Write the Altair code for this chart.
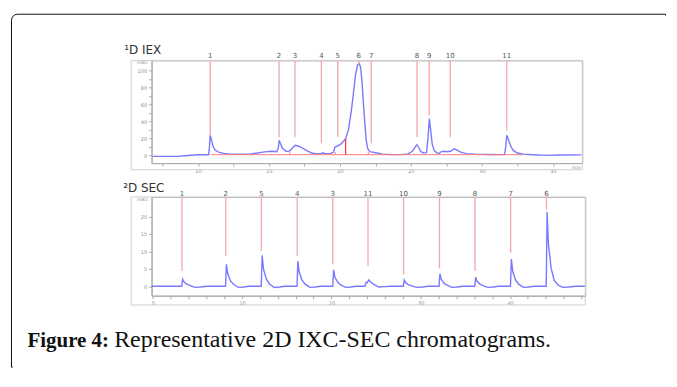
import altair as alt
import pandas as pd

# ---------------- 1D IEX (top) ----------------
iex_time = [6.8, 8.5, 9.3, 10.0, 10.75, 10.8, 10.86, 10.95, 11.05, 11.2, 11.45, 11.8, 12.3, 13.0, 13.6,
            14.2, 14.7, 15.2, 15.55, 15.65, 15.72, 15.8, 15.95, 16.2, 16.45, 16.65, 16.85, 17.1, 17.4,
            17.7, 18.0, 18.4, 18.7, 18.8, 18.95, 19.3, 19.55, 19.65, 19.85, 20.1, 20.4, 20.6, 20.8,
            20.95, 21.1, 21.25, 21.35, 21.45, 21.55, 21.65, 21.75, 21.85, 21.95, 22.1, 22.3, 22.6,
            23.0, 23.6, 24.3, 24.8, 25.1, 25.3, 25.42, 25.55, 25.7, 25.9, 26.1, 26.2, 26.3, 26.4,
            26.5, 26.65, 26.85, 27.0, 27.15, 27.35, 27.55, 27.8, 28.05, 28.25, 28.5, 28.9, 29.5,
            30.5, 31.6, 31.68, 31.75, 31.85, 32.0, 32.2, 32.5, 32.9, 33.6, 34.5, 35.5, 37.0]
iex_signal = [-1.5, -1.5, -0.5, 0.5, 0.5, 8, 23.5, 18, 11, 6, 3.5, 2, 1.2, 1.0, 1.2,
              2.5, 3.8, 4.5, 4.0, 8, 17.5, 14, 8, 4.5, 4.8, 8.5, 11.5, 10.5, 8,
              5, 2.5, 1.5, 2.0, 2.8, 1.8, 1.8, 3.5, 9.5, 11, 13.5, 19.5, 30, 52,
              73, 95, 107, 108, 104, 88, 62, 38, 18, 8, 4, 3.5, 2.5,
              1.2, 0.8, 0.6, 1.5, 4.5, 9.5, 12.3, 9, 4, 2.5, 3, 20, 43, 28,
              13, 5, 2.5, 2.2, 4.2, 4.5, 4.0, 4.5, 7.5, 6, 3.5, 1.8, 1.2,
              0.8, 0.6, 10, 23.5, 19, 12, 5.5, 2.5, 1.2, 0.5, -0.3, 0.2, 0.3]

iex_peak_labels = ["1", "2", "3", "4", "5", "6", "7", "8", "9", "10", "11"]
iex_peak_times = [10.86, 15.71, 16.83, 18.69, 19.85, 21.33, 22.2, 25.43, 26.29, 27.77, 31.75]
iex_line_ends = [23, 21, 21, 14, 21.5, 107, 14, 21, 47, 21, 29]

# integration baseline / drop lines
iex_base_start = [10.9]
iex_base_end = [32.9]
iex_base_level = [0.5]
iex_drop_times = [20.4, 16.46, 19.69, 22.0]
iex_drop_tops = [19.5, 3.5, 3.5, 3.5]
iex_drop_kind = ["main", "cut", "cut", "cut"]

# ---------------- 2D SEC (bottom) ----------------
sec_time = [-0.13, 3.25, 3.35, 3.5, 3.8, 4.2, 4.7, 5.4, 6.0,
            8.15, 8.25, 8.4, 8.7, 9.05, 9.6, 10.2, 10.8,
            12.15, 12.25, 12.4, 12.7, 13.05, 13.6, 14.2, 14.8,
            16.15, 16.25, 16.4, 16.7, 17.05, 17.6, 18.2, 18.8,
            20.15, 20.25, 20.4, 20.7, 21.05, 21.6, 22.2, 22.8,
            23.75, 23.9, 24.0, 24.2, 24.45, 24.8, 25.3, 26.0, 26.6,
            28.05, 28.15, 28.3, 28.6, 29.0, 29.6, 30.2, 30.8,
            32.05, 32.15, 32.3, 32.6, 32.95, 33.5, 34.1, 34.7,
            36.05, 36.15, 36.3, 36.6, 36.95, 37.5, 38.1, 38.7,
            40.05, 40.15, 40.3, 40.6, 40.95, 41.5, 42.1, 42.7,
            44.05, 44.15, 44.3, 44.6, 44.95, 45.4, 45.9, 46.6, 47.3, 48.4]
sec_signal = [0, 0, 2.0, 1.3, 0.6, 0.2, -0.3, -0.2, 0,
              0, 6.3, 3.6, 1.6, 0.5, -0.3, -0.2, 0,
              0, 8.9, 5.0, 2.2, 0.7, -0.35, -0.2, 0,
              0, 7.2, 4.0, 1.8, 0.6, -0.3, -0.2, 0,
              0, 4.7, 2.6, 1.2, 0.4, -0.3, -0.2, 0,
              0, 1.2, 1.0, 1.8, 1.1, 0.5, -0.2, -0.1, 0,
              0, 1.8, 1.1, 0.5, 0.1, -0.3, -0.2, 0,
              0, 3.6, 2.0, 0.9, 0.3, -0.3, -0.2, 0,
              0, 2.6, 1.5, 0.7, 0.2, -0.3, -0.2, 0,
              0, 7.8, 4.3, 1.9, 0.6, -0.3, -0.2, 0,
              0, 21.3, 12, 5.2, 1.7, 0.3, -0.3, -0.2, 0, 0]

sec_peak_labels = ["1", "2", "5", "4", "3", "11", "10", "9", "8", "7", "6"]
sec_peak_times = [3.27, 8.18, 12.16, 16.18, 20.16, 24.1, 28.08, 32.1, 36.08, 40.07, 44.08]
sec_line_ends = [4.4, 8.7, 10.1, 8.7, 6.3, 5.8, 3.4, 5.1, 4.4, 9.6, 22]

# ---------------- tables ----------------
iex_df = pd.DataFrame({"t": iex_time, "v": iex_signal})
iex_pk = pd.DataFrame({"t": iex_peak_times, "end": iex_line_ends, "lab": iex_peak_labels})
iex_base = pd.DataFrame({"t1": iex_base_start, "t2": iex_base_end, "v": iex_base_level})
iex_drop = pd.DataFrame({"t": iex_drop_times, "top": iex_drop_tops, "kind": iex_drop_kind,
                         "bot": [0.5] * len(iex_drop_times)})
sec_df = pd.DataFrame({"t": sec_time, "v": sec_signal})
sec_pk = pd.DataFrame({"t": sec_peak_times, "end": sec_line_ends, "lab": sec_peak_labels})
one = pd.DataFrame({"a": [0]})

BLUE = "#6a6aff"
PINK = "#f2a9a9"
SANS = "DejaVu Sans"

TW, TH = 432, 103
BW, BH = 435, 99

tx = alt.Scale(domain=[6.73, 37.07], nice=False, zero=False)
ty = alt.Scale(domain=[-9.4, 111.8], nice=False, zero=False)
bx = alt.Scale(domain=[-0.13, 48.42], nice=False, zero=False)
by = alt.Scale(domain=[-2.69, 25.6], nice=False, zero=False)

ax_common = dict(grid=False, labelFontSize=5, labelColor="#8c8c8c", tickColor="#aaa",
                 domainColor="#aaa", tickSize=3, labelPadding=2, title=None, labelFont=SANS,
                 labelOverlap=False, labelBound=False, labelFlush=False)

top_x_axis = alt.Axis(values=[7.5 + 2.5 * i for i in range(12)],
                      labelExpr="datum.value % 5 == 0 ? datum.label : ''", **ax_common)
top_y_axis = alt.Axis(values=[0, 10, 20, 30, 40, 50, 60, 70, 80, 90, 100],
                      labelExpr="datum.value % 20 == 0 ? datum.label : ''", **ax_common)
bot_x_axis = alt.Axis(values=[2 * i for i in range(25)],
                      labelExpr="datum.value % 10 == 0 ? datum.label : ''", **ax_common)
bot_y_axis = alt.Axis(values=[0, 5, 10, 15, 20], **ax_common)

# every layer carries the same axis definition so the merged axis keeps it
TX = dict(scale=tx, axis=top_x_axis)
TY = dict(scale=ty, axis=top_y_axis)
BX = dict(scale=bx, axis=bot_x_axis)
BY = dict(scale=by, axis=bot_y_axis)

# ---------- top panel ----------
t_sig = alt.Chart(iex_df).mark_line(color=BLUE, strokeWidth=1.4, opacity=0.9).encode(
    x=alt.X("t:Q", **TX), y=alt.Y("v:Q", **TY))

t_frame = alt.Chart(one).mark_rect(fillOpacity=0, stroke="#cfcfcf", strokeWidth=1).encode(
    x=alt.value(-20.5), x2=alt.value(TW), y=alt.value(0), y2=alt.value(109.7))

t_lines = alt.Chart(iex_pk).mark_rule(color=PINK, strokeWidth=1.3).encode(
    x=alt.X("t:Q", **TX), y=alt.Y("end:Q", **TY), y2=alt.value(0))
t_labels = alt.Chart(iex_pk).mark_text(fontSize=7, font=SANS, color="#555", baseline="middle").encode(
    x=alt.X("t:Q", **TX), y=alt.value(-4), text="lab:N")

t_base = alt.Chart(iex_base).mark_rule(color="#ff7b7b", strokeWidth=1).encode(
    x=alt.X("t1:Q", **TX), x2="t2:Q", y=alt.Y("v:Q", **TY))
t_drop = alt.Chart(iex_drop).mark_rule(strokeWidth=1.2).encode(
    x=alt.X("t:Q", **TX), y=alt.Y("bot:Q", **TY), y2="top:Q",
    color=alt.Color("kind:N", scale=alt.Scale(domain=["main", "cut"], range=["#ff3030", "#ff8c8c"]),
                    legend=None))

t_title = alt.Chart(one).mark_text(text="\u00b9D IEX", fontSize=12, font=SANS, color="#333",
                                   align="left", baseline="alphabetic").encode(
    x=alt.value(-27.5), y=alt.value(-6.3))
t_mau = alt.Chart(one).mark_text(text="mAU", fontSize=4.5, font=SANS, color="#8c8c8c",
                                 align="right", baseline="middle").encode(
    x=alt.value(-4), y=alt.value(2.5))
t_min = alt.Chart(one).mark_text(text="min", fontSize=4.5, font=SANS, color="#8c8c8c",
                                 align="center", baseline="middle").encode(
    x=alt.value(426), y=alt.value(107.7))

# page box with rounded top-left corner; right & bottom edges hidden under white strokes
box = alt.Chart(one).mark_rect(fillOpacity=0, stroke="#111", strokeWidth=1,
                               cornerRadiusTopLeft=6).encode(
    x=alt.value(-140.5), x2=alt.value(515.5), y=alt.value(-46.3), y2=alt.value(307.7))
box_hide_r = alt.Chart(one).mark_rule(color="white", strokeWidth=3).encode(
    x=alt.value(515.5), y=alt.value(-45.0), y2=alt.value(309.0))
box_hide_b = alt.Chart(one).mark_rule(color="white", strokeWidth=3).encode(
    x=alt.value(-139.2), x2=alt.value(517.0), y=alt.value(307.7))

top = alt.layer(t_sig, t_frame, t_lines, t_base, t_drop, t_labels, t_title, t_mau, t_min,
                box, box_hide_r, box_hide_b).properties(width=TW, height=TH)

# ---------- bottom panel ----------
b_sig = alt.Chart(sec_df).mark_line(color=BLUE, strokeWidth=1.4, opacity=0.9).encode(
    x=alt.X("t:Q", **BX), y=alt.Y("v:Q", **BY))
b_frame = alt.Chart(one).mark_rect(fillOpacity=0, stroke="#cfcfcf", strokeWidth=1).encode(
    x=alt.value(-20.5), x2=alt.value(BW), y=alt.value(0), y2=alt.value(108.3))
b_lines = alt.Chart(sec_pk).mark_rule(color=PINK, strokeWidth=1.3).encode(
    x=alt.X("t:Q", **BX), y=alt.Y("end:Q", **BY), y2=alt.value(0))
b_labels = alt.Chart(sec_pk).mark_text(fontSize=7, font=SANS, color="#555", baseline="middle").encode(
    x=alt.X("t:Q", **BX), y=alt.value(-3.4), text="lab:N")
b_title = alt.Chart(one).mark_text(text="\u00b2D SEC", fontSize=12, font=SANS, color="#333",
                                   align="left", baseline="alphabetic").encode(
    x=alt.value(-28.5), y=alt.value(-4.7))
b_mau = alt.Chart(one).mark_text(text="mAU", fontSize=4.5, font=SANS, color="#8c8c8c",
                                 align="right", baseline="middle").encode(
    x=alt.value(-4), y=alt.value(3.3))
cap_bold = alt.Chart(one).mark_text(text="Figure 4:", fontSize=21, font="Liberation Serif",
                                    fontWeight="bold", color="#111", align="left",
                                    baseline="alphabetic").encode(
    x=alt.value(-124.5), y=alt.value(150.3))
cap_text = alt.Chart(one).mark_text(text="Representative 2D IXC-SEC chromatograms.", fontSize=24,
                                    font="Liberation Serif", color="#111", align="left",
                                    baseline="alphabetic").encode(
    x=alt.value(-37.5), y=alt.value(150.3))

bottom = alt.layer(b_sig, b_frame, b_lines, b_labels, b_title, b_mau, cap_bold, cap_text).properties(
    width=BW, height=BH)

chart = alt.vconcat(top, bottom, spacing=34, bounds="flush").properties(
    padding={"left": 2, "top": 4, "right": 0, "bottom": 0}
).configure_view(stroke="#a8a8a8", strokeWidth=1)

chart.save("out.html", embed_options={"renderer": "svg", "actions": False})
